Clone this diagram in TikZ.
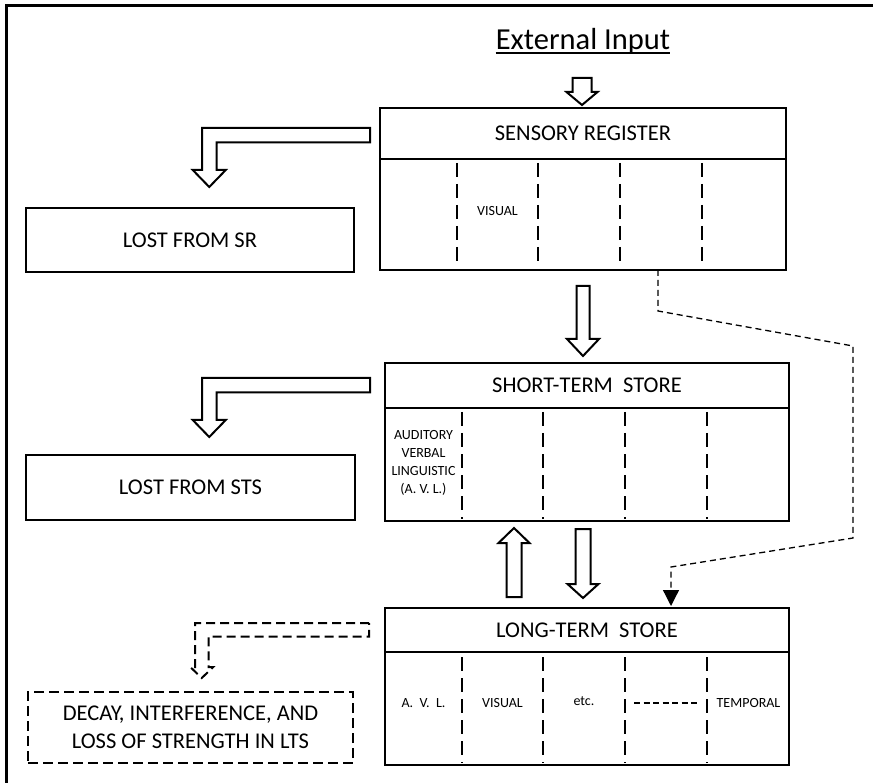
\documentclass[tikz,border=0pt]{standalone}
\usepackage{fontspec}
\setmainfont{Carlito}
\usetikzlibrary{calc,arrows.meta}

\newcommand\boxfont{\fontsize{22.5}{28}\selectfont}
\newcommand\slotfont{\fontsize{14}{18}\selectfont}
\newcommand\headfont{\fontsize{30.5}{36}\selectfont}

\tikzset{
  frame/.style={line width=3pt},
  storebox/.style={draw, line width=2.3pt, inner sep=0pt, outer sep=0pt, font=\boxfont},
  lossbox/.style={draw, line width=2.2pt, inner sep=0pt, font=\boxfont, align=center},
  decaybox/.style={draw, line width=2pt, dash pattern=on 10pt off 5pt, inner sep=0pt,
    font=\boxfont, align=center},
  divider/.style={line width=1.3pt, dash pattern=on 14pt off 7pt},
  slot/.style={font=\slotfont, inner sep=0pt, align=center},
  hollow/.style={draw, line width=2pt, fill=white, line join=miter},
  hollowdashed/.style={draw, line width=2pt, dash pattern=on 9pt off 5pt},
  link/.style={line width=1.3pt, dash pattern=on 6pt off 4pt,
    -{Triangle[length=16pt,width=16pt]}},
  % straight block arrow, tip at the origin, pointing down
  pics/hollowdown/.style n args={4}{code={
    \path[pic actions] (0,0) -- (-#4,-#2) -- (-#3,-#2) -- (-#3,-#1)
      -- (#3,-#1) -- (#3,-#2) -- (#4,-#2) -- cycle;}},
  % block arrow going left then down; origin is its upper right corner
  pics/bentarrow/.style n args={5}{code={
    \path[pic actions] (0,0) -- (-#1,0) -- (-#1,#3) -- ({-#1+#2/2-#4},#3)
      -- ({-#1+#2/2},{#3+#5}) -- ({-#1+#2/2+#4},#3) -- ({-#1+#2},#3)
      -- ({-#1+#2},#2) -- (0,#2) -- cycle;}},
}

\begin{document}
\begin{tikzpicture}[x=1pt,y=-1pt]
\useasboundingbox (0,0) rectangle (873,783);

% outer frame
\draw[frame] (6.5,790) -- (6.5,6) -- (880,6);

% heading
\node[font=\headfont, inner sep=0pt, anchor=base] (ext) at (583,50) {External Input};
\draw[line width=1.6pt] ($(ext.base west)+(0,3)$) -- ($(ext.base east)+(0,3)$);

% sensory register
\node[storebox, anchor=north west, minimum width=406pt, minimum height=51pt] (sr)
  at (380,108) {SENSORY REGISTER};
\node[storebox, anchor=north, minimum width=406pt, minimum height=111pt] (srbody)
  at (sr.south) {};
\foreach \dx in {77,158,240,322}
  \draw[divider] ($(srbody.north west)+(\dx,4)$) -- ($(srbody.south west)+(\dx,-2)$);
\node[slot] (srvis) at ($(srbody.north west)+(117.5,52)$) {VISUAL};

% short-term store
\node[storebox, anchor=north west, minimum width=404pt, minimum height=45pt] (sts)
  at (385,363) {SHORT-TERM\ \ STORE};
\node[storebox, anchor=north, minimum width=404pt, minimum height=113pt] (stsbody)
  at (sts.south) {};
\foreach \dx in {77,158,240,322}
  \draw[divider] ($(stsbody.north west)+(\dx,4)$) -- ($(stsbody.south west)+(\dx,-2)$);
\node[slot] (stsavl) at ($(stsbody.north west)+(38.5,55)$)
  {AUDITORY\\VERBAL\\LINGUISTIC\\(A. V. L.)};

% long-term store
\node[storebox, anchor=north west, minimum width=404pt, minimum height=44pt] (lts)
  at (385,608) {LONG-TERM\ \ STORE};
\node[storebox, anchor=north, minimum width=404pt, minimum height=113pt] (ltsbody)
  at (lts.south) {};
\foreach \dx in {77,158,240,322}
  \draw[divider] ($(ltsbody.north west)+(\dx,5)$) -- ($(ltsbody.south west)+(\dx,-2)$);
\node[slot] (ltsavl) at ($(ltsbody.north west)+(38.5,51)$) {A.\ \ V.\ \ L.};
\node[slot] (ltsvis) at ($(ltsbody.north west)+(117.5,51)$) {VISUAL};
\node[slot] (ltsetc) at ($(ltsbody.north west)+(199,49)$) {etc.};
\node[slot] (ltstmp) at ($(ltsbody.north west)+(363.5,51)$) {TEMPORAL};
\draw[line width=1.3pt, dash pattern=on 6pt off 3.5pt]
  ($(ltsbody.north west)+(249,51)$) -- ($(ltsbody.north west)+(315,51)$);

% loss boxes
\node[lossbox, minimum width=328pt, minimum height=64pt] (lostsr) at (190,240) {LOST FROM SR};
\node[lossbox, minimum width=329pt, minimum height=65pt] (loststs) at (190.5,487.5) {LOST FROM STS};
\node[decaybox, minimum width=325pt, minimum height=71pt] (decay) at (190.5,727.5)
  {DECAY, INTERFERENCE, AND\\LOSS OF STRENGTH IN LTS};

% block arrows
\pic[hollow] at ($(sr.north)+(-1,-3)$) {hollowdown={27}{13}{9.5}{15.5}};
\pic[hollow] at ($(sts.north)+(-4,-7)$) {hollowdown={70}{17}{6.5}{16}};
\pic[hollow, rotate=180] at ($(stsbody.south)+(-73,7)$) {hollowdown={69}{15}{7.5}{15.5}};
\pic[hollow] at ($(lts.north)+(-4,-10)$) {hollowdown={69}{14}{7.5}{15.5}};

\pic[hollow] at ($(sr.north west)+(-10,20)$) {bentarrow={168}{14.5}{42}{16.5}{17}};
\pic[hollow] at ($(sts.north west)+(-15,15)$) {bentarrow={168}{14.5}{42}{16.5}{17}};
\pic[hollowdashed] at ($(lts.north west)+(-16,15)$) {bentarrow={174}{13.5}{44}{11.5}{11}};

% direct route from the sensory register to the long-term store
\coordinate (bendA) at (853,346);
\coordinate (bendB) at (853,538);
\coordinate (bendC) at (671,567);
\draw[link] ($(srbody.south west)+(278,0)$) -- ++(0,41) -- (bendA) -- (bendB) -- (bendC)
  -- ($(lts.north west)+(286,-2)$);
\end{tikzpicture}
\end{document}
